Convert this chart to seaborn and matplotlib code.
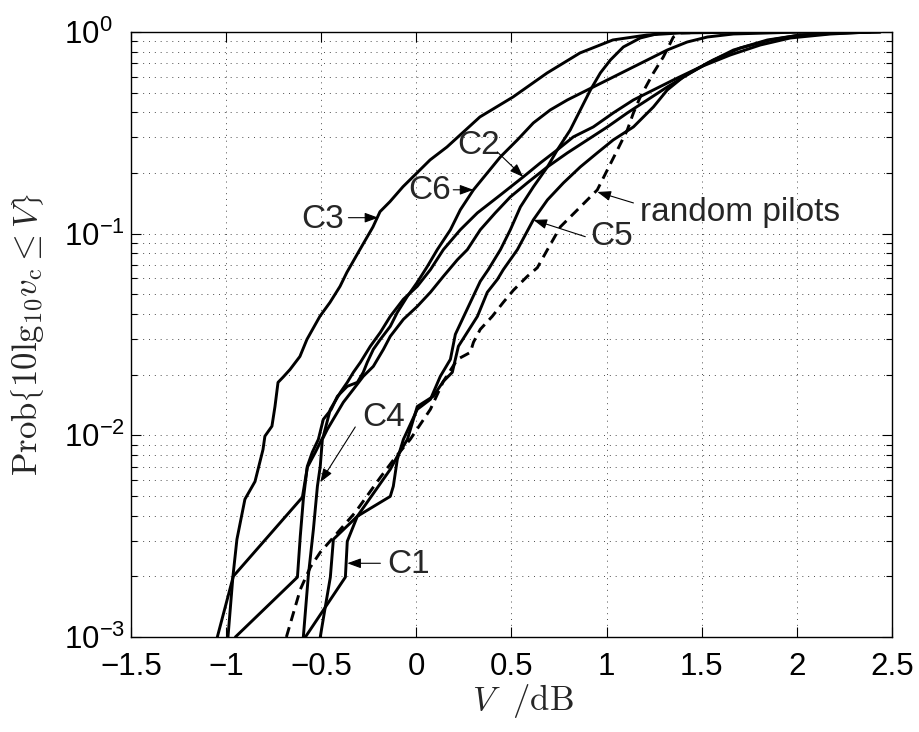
import numpy as np
import pandas as pd
import matplotlib
matplotlib.use("Agg")
import matplotlib.pyplot as plt
import seaborn as sns
from matplotlib.ticker import FixedLocator, FuncFormatter, NullFormatter

c1_v = [-0.583, -0.373, -0.363, -0.310, -0.137, -0.121, -0.100, -0.068, 0.005, 0.074, 0.126, 0.179, 0.205, 0.284, 0.336, 0.378,
        0.442, 0.494, 0.547, 0.615, 0.689, 0.741, 0.809, 0.862, 0.915, 0.967, 1.020, 1.088, 1.177, 1.283, 1.440]
c1_p = [0.001, 0.00198, 0.00298, 0.00397, 0.00498, 0.00559, 0.0076, 0.00955, 0.01346, 0.01508, 0.01961, 0.02381, 0.03167, 0.04565,
        0.058, 0.0663, 0.0833, 0.1045, 0.1357, 0.1705, 0.2143, 0.2603, 0.3269, 0.4107, 0.5159, 0.6263, 0.7264, 0.8426, 0.9338, 0.9887, 1.0]

c2_v = [-1.046, -0.962, -0.599, -0.573, -0.531, -0.489, -0.452, -0.399, -0.363, -0.331, -0.294, -0.242, -0.189, -0.137, -0.068, 0.005,
        0.074, 0.142, 0.231, 0.321, 0.442, 0.562, 0.652, 0.741, 0.825, 0.930, 1.035, 1.141, 1.246, 1.351, 1.493, 1.650, 1.808, 1.966, 2.176, 2.386]
c2_p = [0.001, 0.002, 0.00493, 0.00694, 0.00824, 0.00989, 0.01346, 0.01634, 0.01831, 0.02053, 0.02301, 0.02763, 0.03241, 0.0389, 0.0473,
        0.0548, 0.0663, 0.0833, 0.1045, 0.1268, 0.1556, 0.1912, 0.2244, 0.2603, 0.3018, 0.3382, 0.3969, 0.4603, 0.5159, 0.5782, 0.6706,
        0.769, 0.862, 0.934, 0.977, 1.0]

c3_v = [-0.990, -0.964, -0.943, -0.901, -0.848, -0.806, -0.796, -0.759, -0.743, -0.727, -0.701, -0.664, -0.612, -0.575, -0.507, -0.454,
        -0.401, -0.365, -0.296, -0.228, -0.191, -0.139, -0.070, 0.003, 0.072, 0.161, 0.334, 0.508, 0.687, 0.860, 1.033, 1.212, 1.386, 1.756, 2.1]
c3_p = [0.001, 0.002, 0.00305, 0.00482, 0.0059, 0.0085, 0.0099, 0.0111, 0.0139, 0.0183, 0.0194, 0.0212, 0.0246, 0.0299, 0.0389, 0.0456,
        0.0548, 0.0643, 0.0836, 0.108, 0.1285, 0.144, 0.171, 0.2, 0.232, 0.269, 0.379, 0.476, 0.626, 0.787, 0.913, 0.966, 0.989, 0.999, 1.0]

c4_v = [-0.594, -0.568, -0.541, -0.520, -0.505, -0.494, -0.468, -0.384, -0.331, -0.279, -0.226, -0.173, -0.137, -0.068, 0.005, 0.074,
        0.142, 0.216, 0.268, 0.336, 0.415, 0.494, 0.583, 0.689, 0.794, 0.899, 1.004, 1.109, 1.214, 1.319, 1.440, 1.561, 1.703, 1.861,
        2.018, 2.229, 2.439]
c4_p = [0.001, 0.002, 0.00342, 0.00559, 0.00702, 0.00955, 0.0107, 0.01457, 0.01691, 0.01961, 0.02198, 0.02669, 0.03096, 0.03759, 0.0436,
        0.0512, 0.0614, 0.0743, 0.0833, 0.1045, 0.1268, 0.1521, 0.1785, 0.2143, 0.2515, 0.2916, 0.3382, 0.3969, 0.4603, 0.5338, 0.6263,
        0.7264, 0.833, 0.9127, 0.9663, 0.9887, 1.0]

c5_v = [-0.505, -0.478, -0.452, -0.436, -0.310, -0.137, -0.100, -0.047, 0.005, 0.089, 0.142, 0.189, 0.221, 0.321, 0.373, 0.426, 0.457,
        0.531, 0.615, 0.689, 0.773, 0.862, 0.951, 1.035, 1.141, 1.246, 1.319, 1.403, 1.530, 1.667, 1.845, 2.018, 2.192, 2.439]
c5_p = [0.001, 0.00142, 0.00198, 0.00305, 0.00397, 0.00678, 0.00787, 0.00955, 0.0139, 0.01561, 0.01852, 0.02053, 0.02763, 0.0389, 0.0512,
        0.0593, 0.0663, 0.0833, 0.1171, 0.147, 0.1785, 0.2143, 0.2515, 0.2916, 0.3382, 0.4249, 0.5159, 0.5983, 0.702, 0.8142, 0.9127,
        0.9663, 0.9887, 1.0]

c6_v = [-0.951, -0.625, -0.610, -0.594, -0.573, -0.547, -0.515, -0.489, -0.447, -0.415, -0.363, -0.310, -0.279, -0.258, -0.226, -0.189,
        -0.137, -0.100, -0.047, 0.005, 0.058, 0.110, 0.179, 0.231, 0.300, 0.373, 0.442, 0.531, 0.615, 0.704, 0.794, 0.899, 1.004, 1.109,
        1.214, 1.319, 1.424, 1.530, 1.667, 1.845, 2.018]
c6_p = [0.001, 0.00198, 0.00316, 0.00482, 0.00702, 0.00824, 0.00955, 0.0120, 0.01346, 0.01561, 0.0175, 0.01831, 0.02053, 0.02301, 0.02669,
        0.02992, 0.0347, 0.0407, 0.0489, 0.0574, 0.0688, 0.0833, 0.1045, 0.1312, 0.1648, 0.2001, 0.2403, 0.2916, 0.3541, 0.4107, 0.4603,
        0.5159, 0.5782, 0.6481, 0.7264, 0.8142, 0.8921, 0.9445, 0.9774, 0.9887, 1.0]

rand_v = [-0.683, -0.610, -0.557, -0.505, -0.436, -0.321, -0.189, -0.110, -0.032, 0.021, 0.074, 0.142, 0.216, 0.284, 0.300, 0.336, 0.399,
          0.457, 0.510, 0.583, 0.636, 0.689, 0.757, 0.862, 0.951, 1.004, 1.057, 1.109, 1.141, 1.177, 1.246, 1.298, 1.351, 1.388, 1.598]
rand_p = [0.001, 0.00172, 0.00222, 0.00263, 0.00312, 0.00415, 0.00619, 0.00778, 0.00955, 0.01134, 0.01346, 0.01852, 0.02381, 0.02579,
          0.02891, 0.03354, 0.0389, 0.04565, 0.0524, 0.0614, 0.0678, 0.0833, 0.1081, 0.1357, 0.1648, 0.2071, 0.2603, 0.3269, 0.3969,
          0.4763, 0.6263, 0.7517, 0.9445, 0.9887, 1.0]

x_ticks = [-1.5, -1, -0.5, 0, 0.5, 1, 1.5, 2, 2.5]
y_ticks = [1e-3, 1e-2, 1e-1, 1]

# label text, arrow tail, arrow tip (data coords)
labels = [
    ("C3", (-0.494, 0.117), (-0.357, 0.120), (-0.200, 0.120)),
    ("C6", (0.068, 0.163), (0.194, 0.165), (0.300, 0.165)),
    ("C2", (0.326, 0.275), (0.426, 0.254), (0.562, 0.191)),
    ("C5", (1.025, 0.0966), (0.888, 0.0966), (0.615, 0.117)),
    ("random pilots", (1.703, 0.128), (1.141, 0.142), (0.951, 0.161)),
    ("C4", (-0.173, 0.0123), (-0.321, 0.0110), (-0.505, 0.00585)),
    ("C1", (-0.042, 0.00229), (-0.189, 0.00232), (-0.363, 0.00232)),
]

curves = {"C1": (c1_v, c1_p), "C2": (c2_v, c2_p), "C3": (c3_v, c3_p), "C4": (c4_v, c4_p),
          "C5": (c5_v, c5_p), "C6": (c6_v, c6_p), "random pilots": (rand_v, rand_p)}

sns.set_style("ticks")
plt.rcParams['font.family'] = ['Liberation Sans', 'DejaVu Sans']
plt.rcParams['mathtext.fontset'] = 'custom'
plt.rcParams['mathtext.rm'] = 'Liberation Sans'
plt.rcParams['mathtext.it'] = 'Liberation Sans:italic'
plt.rcParams['mathtext.default'] = 'it'

fig = plt.figure(figsize=(9.19, 7.32), dpi=100)
ax = fig.add_axes([0.1425, 0.1298, 0.8281, 0.8265])
ax.set_yscale('log')

for name, (v, p) in curves.items():
    ls = (0, (3.5, 2.2)) if name == "random pilots" else '-'
    sns.lineplot(x=v, y=p, ax=ax, color='k', lw=2.1, linestyle=ls, sort=False, estimator=None, legend=False)

ax.set_xlim(-1.5, 2.5)
ax.set_ylim(1e-3, 1)
ax.xaxis.set_major_locator(FixedLocator(x_ticks))
ax.xaxis.set_major_formatter(FuncFormatter(lambda x, pos: ('%g' % x).replace('-', '\u2212')))
ax.yaxis.set_major_locator(FixedLocator(y_ticks))
ax.yaxis.set_minor_locator(FixedLocator([m * d for d in [1e-3, 1e-2, 1e-1] for m in range(2, 10)]))
ax.yaxis.set_major_formatter(FuncFormatter(lambda y, pos: r'10$^{%d}$' % round(np.log10(y))))
ax.yaxis.set_minor_formatter(NullFormatter())

grid_kw = dict(color='0.3', lw=0.7, linestyle=(0, (1, 5)))
ax.grid(True, which='major', axis='both', **grid_kw)
ax.grid(True, which='minor', axis='y', **grid_kw)

ax.tick_params(which='both', direction='in', top=True, right=True, colors='k', width=0.8)
ax.tick_params(which='major', length=7, labelsize=22.5)
ax.tick_params(axis='x', which='major', pad=11)
ax.tick_params(axis='y', which='major', pad=48)
ax.tick_params(which='minor', length=4)
for s in ax.spines.values():
    s.set_color('k')
    s.set_linewidth(1.0)

ax.set_xlabel(r'$V\ \ /\mathrm{dB}$', fontsize=25, math_fontfamily='cm')
ax.set_ylabel(r'$\mathrm{Prob}\left\{10\mathrm{lg}_{10}v_{\mathrm{c}}\leq V\right\}$', fontsize=25, math_fontfamily='cm')
ax.xaxis.set_label_coords(0.515, -0.074)
ax.yaxis.set_label_coords(-0.112, 0.5)

for text, pos, tail, tip in labels:
    ax.text(pos[0], pos[1], text, fontsize=24, ha='center', va='center')
    ax.annotate('', xy=tip, xytext=tail,
                arrowprops=dict(arrowstyle='-|>,head_length=0.55,head_width=0.2', mutation_scale=15,
                                color='k', lw=0.8, shrinkA=0, shrinkB=0))

for lab in ax.get_yticklabels():
    lab.set_horizontalalignment('left')

fig.savefig('out.png', dpi=100, facecolor='white')
